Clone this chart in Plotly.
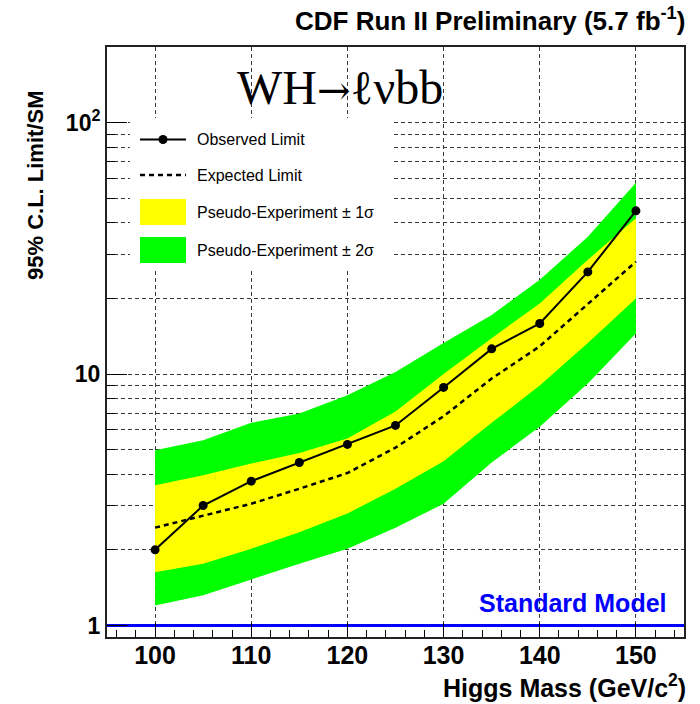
import math
import plotly.graph_objects as go

# ---------------- data ----------------
mass = [100, 105, 110, 115, 120, 125, 130, 135, 140, 145, 150]
observed = [2.0, 3.0, 3.75, 4.45, 5.25, 6.25, 8.85, 12.6, 15.9, 25.5, 44.6]
expected = [2.45, 2.74, 3.05, 3.5, 4.04, 5.1, 6.8, 9.6, 12.9, 19.0, 28.0]
sig1_hi = [3.61, 3.96, 4.41, 4.85, 5.55, 7.1, 10.0, 13.9, 19.1, 28.5, 41.7]
sig1_lo = [1.63, 1.76, 2.02, 2.35, 2.79, 3.5, 4.5, 6.4, 9.0, 13.3, 20.0]
sig2_hi = [4.98, 5.46, 6.4, 6.97, 8.24, 10.2, 13.3, 17.2, 23.7, 35.2, 57.7]
sig2_lo = [1.20, 1.32, 1.52, 1.76, 2.02, 2.45, 3.05, 4.45, 6.17, 9.18, 14.5]

x_range = [95, 155]
y_range = [0.9, 200]
sm_level = 1.0

y_tick_vals = [1, 10, 100]
y_tick_text = ["1", "10", "10<sup>2</sup>"]
y_minor_vals = [2, 3, 4, 5, 6, 7, 8, 9, 20, 30, 40, 50, 60, 70, 80, 90, 200]

legend_labels = ["Observed Limit", "Expected Limit",
                 "Pseudo-Experiment \u00b1 1\u03c3", "Pseudo-Experiment \u00b1 2\u03c3"]

# ---------------- layout geometry ----------------
W, H = 700, 704
ML, MR, MT, MB = 107, 16, 47, 67
PW, PH = W - ML - MR, H - MT - MB


def px(X):
    return (X - ML) / PW


def py(Y):
    return (H - MB - Y) / PH


fig = go.Figure()

# 2 sigma band
fig.add_trace(go.Scatter(
    x=mass + mass[::-1], y=sig2_hi + sig2_lo[::-1],
    fill="toself", fillcolor="#00ff00", line=dict(width=0),
    mode="lines", hoverinfo="skip", showlegend=False))
# 1 sigma band
fig.add_trace(go.Scatter(
    x=mass + mass[::-1], y=sig1_hi + sig1_lo[::-1],
    fill="toself", fillcolor="#ffff00", line=dict(width=0),
    mode="lines", hoverinfo="skip", showlegend=False))
# expected
fig.add_trace(go.Scatter(
    x=mass, y=expected, mode="lines",
    line=dict(color="black", width=2.5, dash="5px,4px"), showlegend=False))
# observed
fig.add_trace(go.Scatter(
    x=mass, y=observed, mode="lines+markers",
    line=dict(color="black", width=2),
    marker=dict(color="black", size=9), showlegend=False))
# Standard model line
fig.add_trace(go.Scatter(
    x=x_range, y=[sm_level, sm_level], mode="lines",
    line=dict(color="#0000ff", width=3), showlegend=False))

FONT = "Liberation Sans"

fig.update_layout(
    width=W, height=H,
    margin=dict(l=ML, r=MR, t=MT, b=MB),
    paper_bgcolor="white", plot_bgcolor="white",
    showlegend=False,
    font=dict(family=FONT, color="black", size=16),
)

grid_common = dict(gridcolor="#3a3a3a", gridwidth=1, griddash="4px,3px")

fig.update_xaxes(
    range=x_range, tickmode="linear", tick0=100, dtick=10,
    showgrid=True, **grid_common,
    ticks="inside", ticklen=14, tickwidth=1, tickcolor="black",
    showline=True, linecolor="#222222", linewidth=2, mirror=True,
    zeroline=False, ticklabelstandoff=-5,
    tickfont=dict(family=FONT, size=25, weight="bold", color="black"),
    minor=dict(ticks="inside", ticklen=7, tickcolor="black", tickwidth=1,
               tick0=0, dtick=2, showgrid=False),
)

fig.update_yaxes(
    type="log", range=[math.log10(y_range[0]), math.log10(y_range[1])],
    tickmode="array", tickvals=y_tick_vals, ticktext=y_tick_text,
    showgrid=True, **grid_common,
    ticks="inside", ticklen=20, tickwidth=1, tickcolor="black",
    showline=True, linecolor="#222222", linewidth=2, mirror=True,
    zeroline=False,
    tickfont=dict(family=FONT, size=23, weight="bold", color="black"),
    minor=dict(tickmode="array", tickvals=y_minor_vals,
               ticks="inside", ticklen=8, tickcolor="black", tickwidth=1,
               showgrid=True, **grid_common),
)

shapes = []
# legend background
shapes.append(dict(type="rect", xref="paper", yref="paper",
                   x0=px(130), x1=px(392), y0=py(268), y1=py(118),
                   fillcolor="white", line=dict(width=0), layer="above"))
# observed key
shapes.append(dict(type="line", xref="paper", yref="paper",
                   x0=px(140), x1=px(186), y0=py(139.5), y1=py(139.5),
                   line=dict(color="black", width=2), layer="above"))
shapes.append(dict(type="circle", xref="paper", yref="paper",
                   x0=px(158.5), x1=px(167.5), y0=py(144), y1=py(135),
                   fillcolor="black", line=dict(width=0), layer="above"))
# expected key
shapes.append(dict(type="line", xref="paper", yref="paper",
                   x0=px(140), x1=px(186), y0=py(175), y1=py(175),
                   line=dict(color="black", width=2.5, dash="5px,4px"), layer="above"))
# 1 sigma key
shapes.append(dict(type="rect", xref="paper", yref="paper",
                   x0=px(140), x1=px(186), y0=py(225), y1=py(199),
                   fillcolor="#ffff00", line=dict(width=0), layer="above"))
# 2 sigma key
shapes.append(dict(type="rect", xref="paper", yref="paper",
                   x0=px(140), x1=px(186), y0=py(263), y1=py(237),
                   fillcolor="#00ff00", line=dict(width=0), layer="above"))

annotations = []
for lab, yy in zip(legend_labels, [139.5, 175, 212, 250]):
    annotations.append(dict(text=lab, xref="paper", yref="paper",
                            x=px(195), y=py(yy), xanchor="left", yanchor="middle",
                            showarrow=False, font=dict(family=FONT, size=16, color="black")))

annotations.append(dict(text="<b>CDF Run II Preliminary (5.7 fb<sup>-1</sup>)</b>",
                        xref="paper", yref="paper", x=px(687), y=py(20),
                        xanchor="right", yanchor="middle", showarrow=False,
                        font=dict(family=FONT, size=26, color="black")))
annotations.append(dict(text="<b>95% C.L. Limit/SM</b>", textangle=-90,
                        xref="paper", yref="paper", x=px(36), y=py(186),
                        xanchor="center", yanchor="middle", showarrow=False,
                        font=dict(family=FONT, size=22, color="black")))
annotations.append(dict(text="<b>Higgs Mass (GeV/c<sup>2</sup>)</b>",
                        xref="paper", yref="paper", x=px(688), y=py(686),
                        xanchor="right", yanchor="middle", showarrow=False,
                        font=dict(family=FONT, size=25, color="black")))
annotations.append(dict(
    text="WH<span style=\"font-family:'DejaVu Serif'; font-size:40px\">\u2192</span>\u2113\u03bdbb",
    xref="paper", yref="paper", x=px(340), y=py(87),
    xanchor="center", yanchor="middle", showarrow=False,
    font=dict(family="Liberation Serif", size=48, color="black")))
annotations.append(dict(text="<b>Standard Model</b>",
                        xref="paper", yref="paper", x=px(669), y=py(603),
                        xanchor="right", yanchor="middle", showarrow=False,
                        font=dict(family=FONT, size=25, color="#0000ff")))

fig.update_layout(shapes=shapes, annotations=annotations)

fig.write_html("out.html")
